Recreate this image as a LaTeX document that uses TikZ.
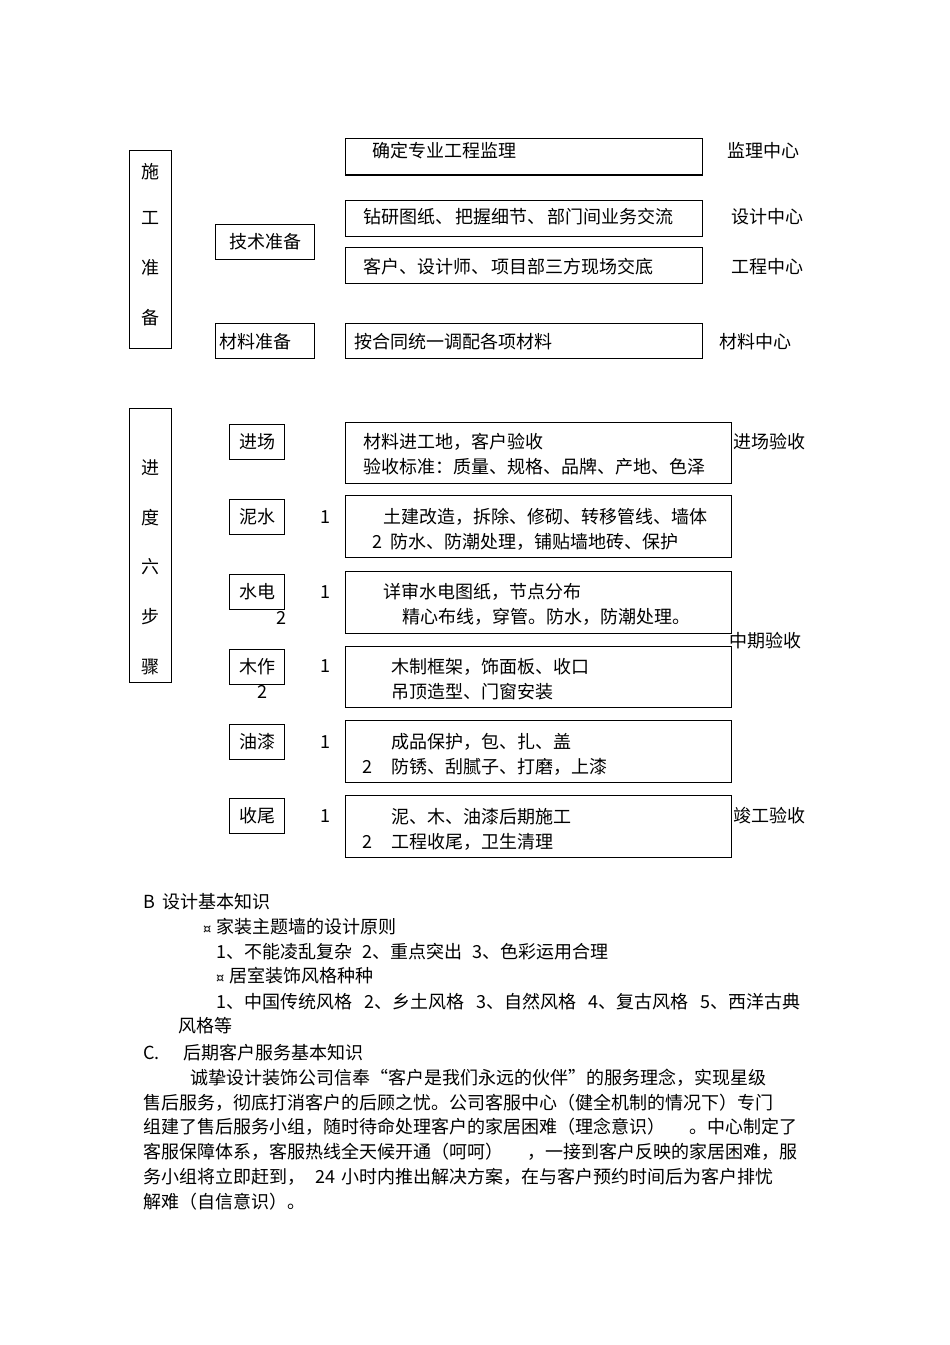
\documentclass[tikz,border=0pt]{standalone}
\usepackage{fontspec}
\setmainfont{Noto Sans CJK SC}
\newfontfamily\dv{DejaVu Sans}
\newcommand\fs{\fontsize{18pt}{22pt}\selectfont}
\newcommand\fq[1]{{\addfontfeature{RawFeature=+fwid}#1}}
\newcommand\mybox[5]{\node[box,minimum width=#4pt,minimum height=#5pt] (#1) at (#2,#3) {};}
\begin{document}
\begin{tikzpicture}[x=1pt,y=-1pt,
  box/.style={draw,line width=1pt,inner sep=0pt,anchor=north west},
  t/.style={anchor=west,inner sep=0pt,font=\fs},
  c/.style={anchor=center,inner sep=0pt,font=\fs}]
\useasboundingbox[fill=white] (0,0) rectangle (950,1345);
% ---------- top section ----------
\mybox{sg}{129}{150}{42}{198}
\mybox{jl}{345}{138}{357}{36}
\draw[line width=2pt] (jl.south west) -- (jl.south east);
\mybox{js}{215}{224}{99}{35}
\mybox{zy}{345}{200}{357}{36}
\mybox{kh}{345}{247}{357}{36}
\mybox{cl}{215}{323}{99}{35}
\mybox{ht}{345}{323}{357}{35}
\node[c] (sg1) at (150,172) {施};
\node[c] (sg2) at (150,218) {工};
\node[c] (sg3) at (150,268) {准};
\node[c] (sg4) at (150,318) {备};
\node[t] (jlt) at (372,151) {确定专业工程监理};
\node[t] (jlr) at (727,151) {监理中心};
\node[c] (jst) at (js.center) {技术准备};
\node[t] (zyt) at (363,217) {钻研图纸、\hspace{2pt}把握细节、\hspace{2pt}部门间业务交流};
\node[t] (zyr) at (731,217) {设计中心};
\node[t] (kht) at (363,267) {客户、设计师、\hspace{2pt}项目部三方现场交底};
\node[t] (khr) at (731,267) {工程中心};
\node[t] (clt) at (219,342) {材料准备};
\node[t] (htt) at (354,342) {按合同统一调配各项材料};
\node[t] (htr) at (719,342) {材料中心};
% ---------- progress section ----------
\mybox{jd}{129}{408}{42}{274}
\node[c] (jd1) at (150,468) {进};
\node[c] (jd2) at (150,518) {度};
\node[c] (jd3) at (150,567) {六};
\node[c] (jd4) at (150,617) {步};
\node[c] (jd5) at (150,667) {骤};
\mybox{s1}{229}{424}{55}{35}
\mybox{s2}{229}{499}{55}{35}
\mybox{s3}{229}{574}{55}{35}
\mybox{s4}{229}{649}{55}{35}
\mybox{s5}{229}{724}{55}{35}
\mybox{s6}{229}{798}{55}{35}
\node[c] (s1t) at (s1.center) {进场};
\node[c] (s2t) at (s2.center) {泥水};
\node[c] (s3t) at (s3.center) {水电};
\node[c] (s4t) at (s4.center) {木作};
\node[c] (s5t) at (s5.center) {油漆};
\node[c] (s6t) at (s6.center) {收尾};
\mybox{b1}{345}{422}{386}{61}
\mybox{b2}{345}{495}{386}{62}
\mybox{b3}{345}{571}{386}{62}
\mybox{b4}{345}{646}{386}{61}
\mybox{b5}{345}{720}{386}{62}
\mybox{b6}{345}{795}{386}{62}
% numbers
\node[c] (n21) at (325,517) {1};
\node[c] (n31) at (325,592) {1};
\node[c] (n32) at (281,618) {2};
\node[c] (n41) at (325,666) {1};
\node[c] (n42) at (262,692) {2};
\node[c] (n51) at (325,742) {1};
\node[c] (n61) at (325,816) {1};
% box texts
\node[t] (b1a) at (363,442) {材料进工地，客户验收};
\node[t] (b1b) at (363,467) {验收标准：质量、规格、品牌、产地、色泽};
\node[t] (b2a) at (383,517) {土建改造，拆除、修砌、转移管线、墙体};
\node[c] (b2n) at (377,542) {2};
\node[t] (b2b) at (390,542) {防水、防潮处理，铺贴墙地砖、保护};
\node[t] (b3a) at (383,592) {详审水电图纸，节点分布};
\node[t] (b3b) at (402,617) {精心布线，穿管。防水，防潮处理。};
\node[t] (b4a) at (391,667) {木制框架，饰面板、收口};
\node[t] (b4b) at (391,692) {吊顶造型、门窗安装};
\node[t] (b5a) at (391,742) {成品保护，包、扎、盖};
\node[c] (b5n) at (367,767) {2};
\node[t] (b5b) at (391,767) {防锈、刮腻子、打磨，上漆};
\node[t] (b6a) at (391,817) {泥、木、油漆后期施工};
\node[c] (b6n) at (367,842) {2};
\node[t] (b6b) at (391,842) {工程收尾，卫生清理};
\node[t] (r1) at (733,442) {进场验收};
\node[t] (r2) at (729,641) {中期验收};
\node[t] (r3) at (733,816) {竣工验收};
% ---------- text section ----------
\node[t] (B1) at (143,902) {B\hspace{7pt}设计基本知识};
\node[t] (B2) at (203,927) {{\dv\fontsize{13pt}{13pt}\selectfont ¤}\hspace{5pt}家装主题墙的设计原则};
\node[t] (B3) at (216,952) {1、不能凌乱复杂\hspace{10pt}2、重点突出\hspace{10pt}3、色彩运用合理};
\node[t] (B4) at (216,976) {{\dv\fontsize{13pt}{13pt}\selectfont ¤}\hspace{5pt}居室装饰风格种种};
\node[t] (B5) at (216,1002) {1、中国传统风格\hspace{12pt}2、乡土风格\hspace{12pt}3、自然风格\hspace{12pt}4、复古风格\hspace{12pt}5、西洋古典};
\node[t] (B6) at (178,1026) {风格等};
\node[t] (C0) at (143,1053) {C.};
\node[t] (C1) at (183,1053) {后期客户服务基本知识};
\node[t] (P1) at (190,1078) {诚挚设计装饰公司信奉\fq{“}客户是我们永远的伙伴\fq{”}的服务理念，实现星级};
\node[t] (P2) at (143,1103) {售后服务，彻底打消客户的后顾之忧。公司客服中心（健全机制的情况下）专门};
\node[t] (P3) at (143,1127) {组建了售后服务小组，随时待命处理客户的家居困难（理念意识）\hspace{24pt}。中心制定了};
\node[t] (P4) at (143,1152) {客服保障体系，客服热线全天候开通（呵呵）\hspace{24pt}，一接到客户反映的家居困难，服};
\node[t] (P5) at (143,1177) {务小组将立即赶到，\hspace{10pt}24\hspace{6pt}小时内推出解决方案，在与客户预约时间后为客户排忧};
\node[t] (P6) at (143,1202) {解难（自信意识）。};
\end{tikzpicture}
\end{document}
